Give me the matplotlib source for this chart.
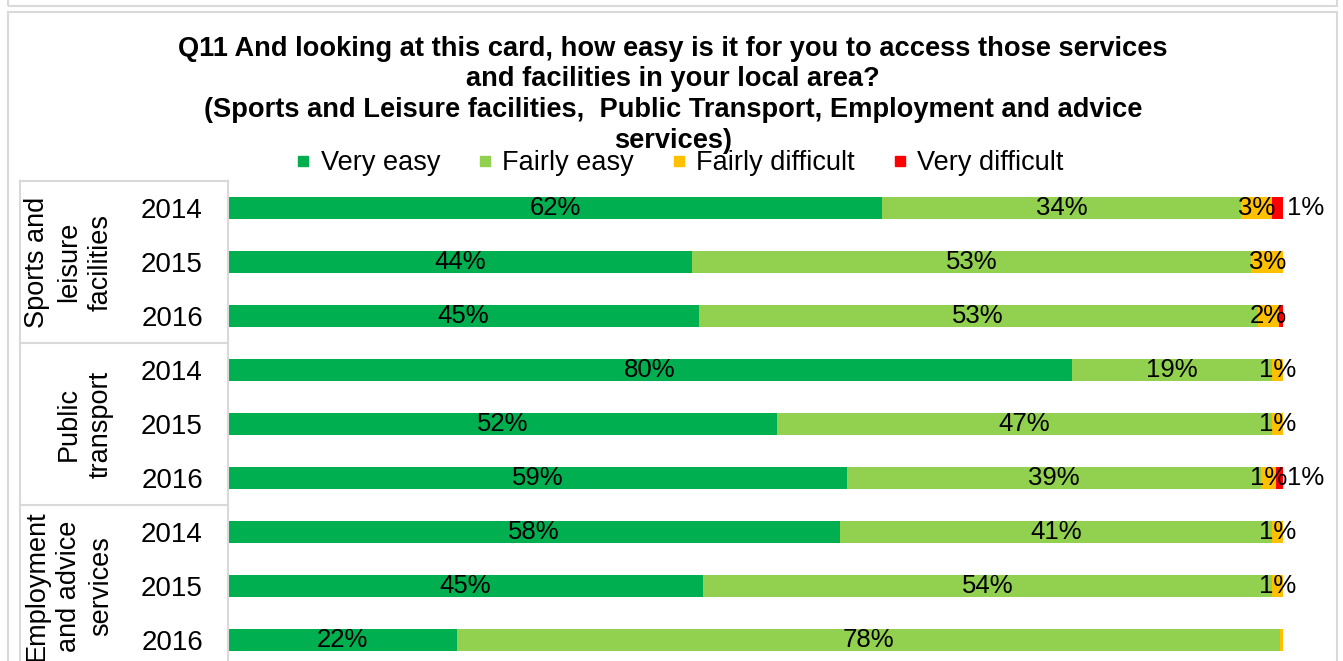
import matplotlib

matplotlib.use("Agg")
import matplotlib.pyplot as plt
import numpy as np
from matplotlib.lines import Line2D
from matplotlib.patches import Rectangle
from matplotlib.transforms import blended_transform_factory

# ---- data -------------------------------------------------------------
groups = ["Sports and\nleisure\nfacilities", "Public\ntransport", "Employment\nand advice\nservices"]
years = ["2014", "2015", "2016"] * 3
series = ["Very easy", "Fairly easy", "Fairly difficult", "Very difficult"]
very_easy = [62, 44, 44.6, 80, 52, 58.7, 58, 45, 21.7]
fairly_easy = [34, 53, 53, 19, 47, 39.2, 41, 54, 78]
fairly_difficult = [3, 3, 2, 1, 1, 1.4, 1, 1, 0.3]
very_difficult = [1, 0, 0.4, 0, 0, 0.7, 0, 0, 0]

title_lines = [
    "Q11 And looking at this card, how easy is it for you to access those services",
    "and facilities in your local area?",
    "(Sports and Leisure facilities,  Public Transport, Employment and advice",
    "services)",
]

# ---- style ------------------------------------------------------------
COLORS = ["#00B050", "#92D050", "#FFC000", "#FF0000"]
BORDER = "#D9D9D9"
W, H = 1343, 661
FS_TICK = 20
FS_LABEL = 18.5
FS_LEGEND = 19.5
FS_TITLE = 19.6

plt.rcParams["font.family"] = ["Liberation Sans", "DejaVu Sans"]


def fx(px):
    return px / W


def fy(py):
    return 1 - py / H


fig = plt.figure(figsize=(W / 100, H / 100), dpi=100)

# outer boxes (chart frame, cropped)
fig.patches.append(Rectangle((fx(8), fy(6)), fx(1337) - fx(8), 0.2, transform=fig.transFigure,
                             fill=False, edgecolor=BORDER, lw=1.5))
fig.patches.append(Rectangle((fx(8), -0.2), fx(1337) - fx(8), fy(12) + 0.2, transform=fig.transFigure,
                             fill=False, edgecolor=BORDER, lw=1.5))

ax_left, ax_right, ax_top, row_h = 228, 1283, 181, 54
n = len(years)
ax = fig.add_axes([fx(ax_left), fy(ax_top + row_h * n), fx(ax_right) - fx(ax_left), row_h * n / H])

y = np.arange(n)
values = [very_easy, fairly_easy, fairly_difficult, very_difficult]
left = np.zeros(n)
for k, (vals, col) in enumerate(zip(values, COLORS)):
    vals = np.array(vals, dtype=float)
    ax.barh(y, vals, left=left, height=0.41, color=col, edgecolor="none", zorder=2)
    for i, v in enumerate(vals):
        if v < 0.5:
            continue
        if k == 3:
            ax.text(100.4, y[i], f"{v:.0f}%", ha="left", va="center", fontsize=FS_LABEL,
                    color="black", clip_on=False, zorder=4)
        else:
            ax.text(left[i] + v / 2, y[i], f"{v:.0f}%", ha="center", va="center",
                    fontsize=FS_LABEL, color="black", zorder=4)
    left += vals

ax.set_xlim(0, 100)
ax.set_ylim(n - 0.5, -0.5)
ax.set_yticks(y)
ax.set_yticklabels(years, fontsize=FS_TICK)
ax.tick_params(axis="y", length=0, pad=18)
ax.set_xticks([])
for side in ("top", "right", "bottom"):
    ax.spines[side].set_visible(False)
ax.spines["left"].set_color(BORDER)
ax.spines["left"].set_linewidth(1.5)

# group label grid
trans = blended_transform_factory(ax.transAxes, ax.transData)
x_grid = (20 - ax_left) / (ax_right - ax_left)
for yb in (-0.5, 2.5, 5.5):
    ax.add_line(Line2D([x_grid, 0], [yb, yb], transform=trans, color=BORDER, lw=1.5, clip_on=False))
ax.add_line(Line2D([x_grid, x_grid], [-0.5, n - 0.5], transform=trans, color=BORDER, lw=1.5, clip_on=False))

x_grp = (114 - ax_left) / (ax_right - ax_left)
for g, name in enumerate(groups):
    ax.text(x_grp, g * 3 + 1, name, transform=trans, rotation=90, ha="right", va="center",
            multialignment="center", fontsize=19.5, linespacing=1.3, clip_on=False)

# title
for line, base in zip(title_lines, [56, 86, 117, 148]):
    fig.text(fx(673), fy(base), line, ha="center", va="baseline", fontsize=FS_TITLE,
             fontweight="bold", color="black")

# legend
handles = [Line2D([], [], marker="s", linestyle="none", markersize=7.5, color=c,
                  markeredgecolor=c) for c in COLORS]
fig.legend(handles, series, loc="center", bbox_to_anchor=(fx(680), fy(163)), ncol=4,
           frameon=False, fontsize=FS_LEGEND, handlelength=0.5, handletextpad=0.4,
           columnspacing=1.4, borderpad=0, borderaxespad=0)

fig.savefig("out.png", dpi=100, facecolor="white")
